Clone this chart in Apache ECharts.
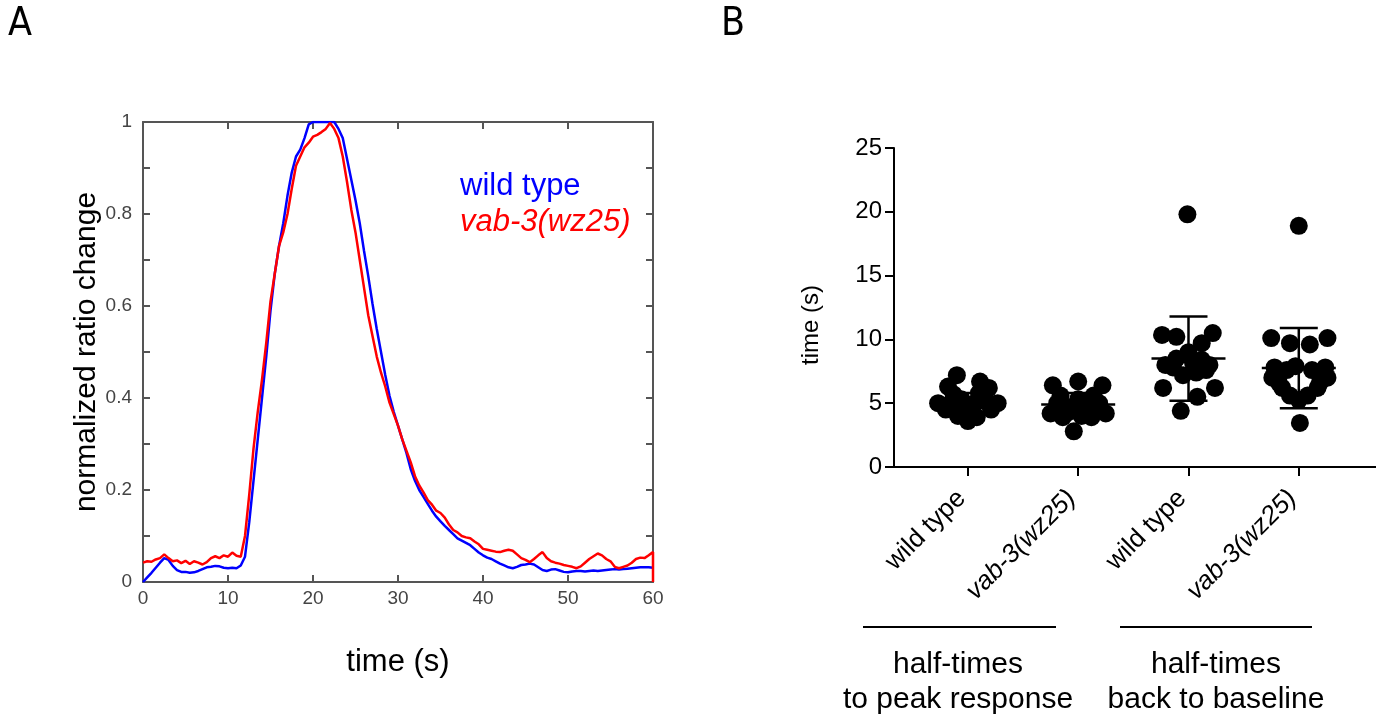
<!DOCTYPE html>
<html>
<head>
<meta charset="utf-8">
<script src="https://cdn.jsdelivr.net/npm/echarts@6/dist/echarts.min.js"></script>
<style>
  html, body { margin: 0; padding: 0; background: #fff; }
  #main { width: 1376px; height: 719px; }
</style>
</head>
<body>
<div id="main"></div>
<script>
// panel A: time courses, sampled every 0.5 s
var timeA = [];
for (var i = 0; i <= 120; i++) timeA.push(i * 0.5);

var wildType = [
  0, 0.010, 0.020, 0.031, 0.042, 0.052, 0.048, 0.035, 0.026, 0.022,
  0.022, 0.020, 0.021, 0.024, 0.028, 0.032, 0.033, 0.035, 0.034, 0.031,
  0.030, 0.031, 0.030, 0.036, 0.055, 0.13, 0.22, 0.31, 0.40, 0.49,
  0.59, 0.67, 0.73, 0.78, 0.84, 0.89, 0.925, 0.94, 0.965, 0.995,
  1.0, 1.0, 1.0, 1.0, 1.0, 1.0, 0.985, 0.965, 0.92, 0.875,
  0.83, 0.78, 0.72, 0.665, 0.605, 0.55, 0.50, 0.45, 0.405, 0.37,
  0.34, 0.31, 0.28, 0.245, 0.22, 0.20, 0.185, 0.17, 0.155, 0.142,
  0.132, 0.122, 0.113, 0.104, 0.095, 0.090, 0.085, 0.080, 0.072, 0.064,
  0.058, 0.053, 0.050, 0.045, 0.040, 0.036, 0.032, 0.030, 0.033, 0.037,
  0.038, 0.040, 0.038, 0.032, 0.026, 0.024, 0.027, 0.028, 0.025, 0.022,
  0.021, 0.023, 0.024, 0.024, 0.023, 0.024, 0.025, 0.024, 0.025, 0.026,
  0.027, 0.028, 0.027, 0.028, 0.029, 0.030, 0.031, 0.032, 0.032, 0.032,
  0.031
];

var vab3 = [
  0.042, 0.045, 0.044, 0.049, 0.052, 0.060, 0.052, 0.045, 0.047, 0.041,
  0.046, 0.039, 0.045, 0.042, 0.038, 0.043, 0.052, 0.056, 0.052, 0.058,
  0.055, 0.064, 0.057, 0.055, 0.10, 0.19, 0.29, 0.37, 0.44, 0.52,
  0.61, 0.67, 0.73, 0.76, 0.80, 0.855, 0.905, 0.925, 0.945, 0.955,
  0.968, 0.972, 0.978, 0.985, 0.998, 0.985, 0.965, 0.925, 0.87, 0.81,
  0.76, 0.70, 0.64, 0.58, 0.535, 0.49, 0.455, 0.425, 0.39, 0.365,
  0.34, 0.31, 0.285, 0.26, 0.23, 0.21, 0.195, 0.178, 0.168, 0.155,
  0.150, 0.140, 0.125, 0.113, 0.108, 0.100, 0.097, 0.095, 0.088, 0.082,
  0.072, 0.070, 0.068, 0.066, 0.065, 0.068, 0.070, 0.068, 0.060, 0.052,
  0.048, 0.043, 0.050, 0.058, 0.065, 0.052, 0.045, 0.042, 0.040, 0.037,
  0.035, 0.033, 0.030, 0.034, 0.042, 0.050, 0.056, 0.062, 0.058, 0.050,
  0.045, 0.033, 0.030, 0.033, 0.036, 0.042, 0.050, 0.053, 0.052, 0.058,
  0.065
];

// panel B: half-times, [offset from group centre, seconds]
var groupNames = ['wild type', 'vab-3(wz25)', 'wild type', 'vab-3(wz25)'];
var groupMeans = [5.2, 4.9, 8.5, 7.75];
var groupSD = [0.6, 0.9, 3.3, 3.15];
var peakWT = [[-0.10, 7.2], [-0.18, 6.3], [0.11, 6.7], [0.19, 6.2], [-0.27, 5.0], [0.27, 5.0],
  [-0.13, 5.7], [0.10, 5.8], [-0.20, 4.5], [0.21, 4.5], [-0.09, 4.0], [0.0, 3.6],
  [0.08, 3.9], [-0.06, 5.3], [0.06, 5.0], [-0.17, 4.9], [0.16, 5.3], [0.02, 4.4]];
var peakVab = [[0.0, 6.7], [-0.23, 6.4], [0.22, 6.4], [-0.16, 5.6], [0.14, 5.6], [-0.25, 4.2],
  [0.25, 4.2], [-0.14, 3.9], [0.12, 3.9], [-0.04, 2.8], [-0.06, 4.7], [0.06, 4.8],
  [-0.19, 5.0], [0.19, 5.0], [-0.09, 4.3], [0.09, 4.4], [0.0, 5.3], [0.03, 4.0]];
var baseWT = [[-0.24, 10.35], [-0.11, 10.2], [0.22, 10.5], [0.12, 9.7], [0.0, 9.0], [-0.11, 8.5],
  [-0.21, 8.0], [0.19, 8.0], [0.12, 8.4], [-0.05, 7.2], [0.07, 7.4], [-0.23, 6.2],
  [0.24, 6.2], [0.08, 5.5], [-0.07, 4.4], [-0.01, 19.8], [-0.14, 7.8], [0.16, 7.6], [0.04, 8.2]];
var baseVab = [[-0.25, 10.1], [-0.08, 9.7], [0.10, 9.6], [0.26, 10.1], [-0.22, 7.8], [0.24, 7.8],
  [-0.24, 7.0], [0.26, 7.0], [-0.11, 7.6], [0.12, 7.6], [-0.15, 6.2], [0.17, 6.2],
  [-0.08, 5.6], [0.08, 5.6], [0.0, 5.25], [0.01, 3.45], [0.0, 18.9], [-0.18, 6.6],
  [0.19, 6.6], [-0.03, 7.9]];

var font = 'Liberation Sans, Arial, sans-serif';
var letterFont = 'DejaVu Sans Condensed, DejaVu Sans, sans-serif';

function pairs(xs, ys) {
  return xs.map(function (x, i) { return [x, ys[i]]; });
}

var vabLine = pairs(timeA, vab3);
vabLine.push([60, 0]);

var dots = [];
[peakWT, peakVab, baseWT, baseVab].forEach(function (g, gi) {
  g.forEach(function (p) { dots.push([gi + 1 + p[0], p[1]]); });
});
var bars = groupMeans.map(function (m, i) { return [i + 1, m, groupSD[i]]; });

var grayAxis = { show: true, onZero: false, lineStyle: { color: '#555', width: 2 } };
var grayTick = { show: true, inside: true, length: 7, lineStyle: { color: '#555', width: 2 } };

function yLabelA(v) {
  var k = Math.round(v * 10);
  if (k % 2) return '';
  if (k === 0) return '0';
  if (k === 10) return '1';
  return (k / 10).toFixed(1);
}

var chart = echarts.init(document.getElementById('main'), null, { renderer: 'canvas' });
var option = {
  animation: false,
  textStyle: { fontFamily: font },
  grid: [
    { left: 143, top: 122, width: 510, height: 460 },
    { left: 894, top: 148, width: 482, height: 319 }
  ],
  xAxis: [
    {
      gridIndex: 0, type: 'value', min: 0, max: 60, interval: 10, position: 'bottom',
      axisLine: grayAxis, axisTick: grayTick, splitLine: { show: false },
      axisLabel: { color: '#444', fontSize: 19, margin: 7 },
      name: 'time (s)', nameLocation: 'middle', nameGap: 65,
      nameTextStyle: { color: '#000', fontSize: 31 }
    },
    {
      gridIndex: 0, type: 'value', min: 0, max: 60, interval: 10, position: 'top',
      axisLine: grayAxis, axisTick: grayTick, splitLine: { show: false },
      axisLabel: { show: false }
    },
    {
      gridIndex: 1, type: 'value', min: 0.33, max: 4.7, position: 'bottom',
      splitLine: { show: false },
      axisLine: { show: true, onZero: false, lineStyle: { color: '#000', width: 2 } },
      axisTick: { show: true, customValues: [1, 2, 3, 4], length: 9, lineStyle: { color: '#000', width: 2 } },
      axisLabel: {
        customValues: [1, 2, 3, 4], rotate: 45, margin: 21, color: '#000', fontSize: 26,
        padding: [0, 9, 0, 0],
        formatter: function (v) {
          var name = groupNames[Math.round(v) - 1];
          return name.indexOf('vab') === 0 ? '{it|' + name + '}' : name;
        },
        rich: { it: { fontStyle: 'italic', fontSize: 26, color: '#000' } }
      }
    }
  ],
  yAxis: [
    {
      gridIndex: 0, type: 'value', min: 0, max: 1, interval: 0.1, position: 'left',
      axisLine: grayAxis, axisTick: grayTick, splitLine: { show: false },
      axisLabel: { color: '#444', fontSize: 19, margin: 11, formatter: yLabelA },
      name: 'normalized ratio change', nameLocation: 'middle', nameGap: 39,
      nameTextStyle: { color: '#000', fontSize: 30 }
    },
    {
      gridIndex: 0, type: 'value', min: 0, max: 1, interval: 0.1, position: 'right',
      axisLine: grayAxis, axisTick: grayTick, splitLine: { show: false },
      axisLabel: { show: false }
    },
    {
      gridIndex: 1, type: 'value', min: 0, max: 25, interval: 5, position: 'left',
      axisLine: { show: true, onZero: false, lineStyle: { color: '#000', width: 2 } },
      axisTick: { show: true, length: 9, lineStyle: { color: '#000', width: 2 } },
      splitLine: { show: false },
      axisLabel: { color: '#000', fontSize: 24, margin: 12 }
    }
  ],
  series: [
    {
      name: 'wild type', type: 'line', xAxisIndex: 0, yAxisIndex: 0,
      data: pairs(timeA, wildType), showSymbol: false, smooth: false,
      lineStyle: { color: '#0000ff', width: 2.5 }, z: 3
    },
    {
      name: 'vab-3(wz25)', type: 'line', xAxisIndex: 0, yAxisIndex: 0,
      data: vabLine, showSymbol: false, smooth: false,
      lineStyle: { color: '#ff0000', width: 2.5 }, z: 4
    },
    {
      type: 'scatter', xAxisIndex: 2, yAxisIndex: 2, data: dots,
      symbol: 'circle', symbolSize: 18, itemStyle: { color: '#000', opacity: 1 }, z: 3
    },
    {
      type: 'custom', xAxisIndex: 2, yAxisIndex: 2, data: bars, z: 4,
      renderItem: function (params, api) {
        var x = api.value(0), m = api.value(1), s = api.value(2);
        var c = api.coord([x, m]);
        var hi = api.coord([x, m + s]);
        var lo = api.coord([x, m - s]);
        var st = { stroke: '#000', lineWidth: 2.5 };
        return {
          type: 'group',
          children: [
            { type: 'line', shape: { x1: c[0], y1: hi[1], x2: c[0], y2: lo[1] }, style: st },
            { type: 'line', shape: { x1: c[0] - 37, y1: c[1], x2: c[0] + 37, y2: c[1] }, style: st },
            { type: 'line', shape: { x1: c[0] - 19, y1: hi[1], x2: c[0] + 19, y2: hi[1] }, style: st },
            { type: 'line', shape: { x1: c[0] - 19, y1: lo[1], x2: c[0] + 19, y2: lo[1] }, style: st }
          ]
        };
      }
    }
  ],
  graphic: [
    { type: 'text', left: 8, top: 5, style: { text: 'A', fontSize: 39, fontFamily: letterFont, fill: '#000' } },
    { type: 'text', left: 721, top: 5, style: { text: 'B', fontSize: 39, fontFamily: letterFont, fill: '#000' } },
    { type: 'text', x: 811, y: 325, rotation: Math.PI / 2, style: { text: 'time (s)', align: 'center', verticalAlign: 'middle', fontSize: 24, fontFamily: font, fill: '#000' } },
    { type: 'text', left: 460, top: 171, style: { text: 'wild type', fontSize: 31, fontFamily: font, fill: '#0000ff' } },
    { type: 'text', left: 460, top: 207, style: { text: 'vab-3(wz25)', fontSize: 31, fontStyle: 'italic', fontFamily: font, fill: '#ff0000' } },
    { type: 'line', shape: { x1: 863, y1: 627, x2: 1056, y2: 627 }, style: { stroke: '#000', lineWidth: 2 } },
    { type: 'line', shape: { x1: 1120, y1: 627, x2: 1312, y2: 627 }, style: { stroke: '#000', lineWidth: 2 } },
    { type: 'text', x: 958, y: 647, style: { text: 'half-times\nto peak response', align: 'center', lineHeight: 35, fontSize: 30, fontFamily: font, fill: '#000' } },
    { type: 'text', x: 1216, y: 647, style: { text: 'half-times\nback to baseline', align: 'center', lineHeight: 35, fontSize: 30, fontFamily: font, fill: '#000' } }
  ]
};
chart.setOption(option);
</script>
</body>
</html>
